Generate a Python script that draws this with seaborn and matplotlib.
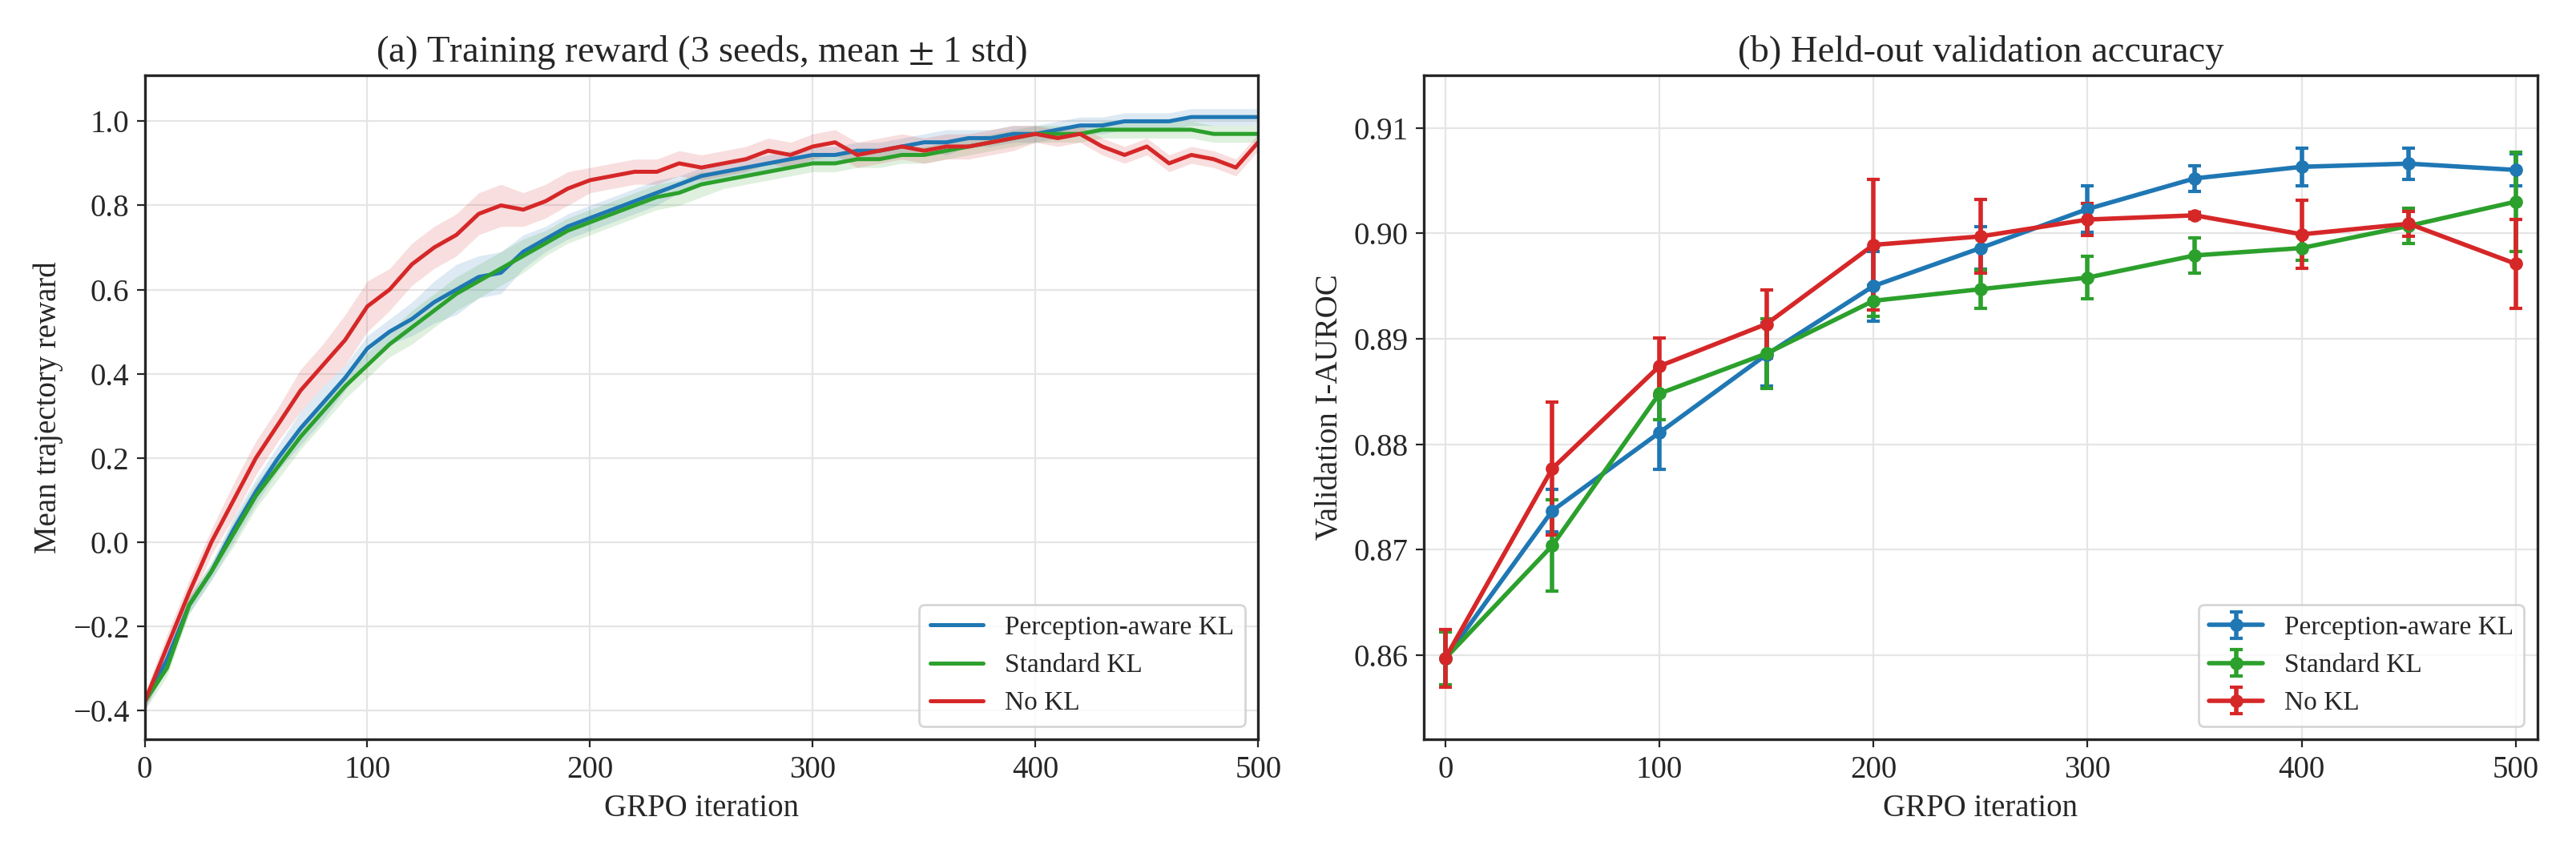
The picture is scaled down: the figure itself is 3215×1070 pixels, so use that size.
import matplotlib.pyplot as plt
import seaborn as sns
import numpy as np

# (a) training reward, sampled every 10 iterations
iters = np.arange(0, 501, 10)
pa_mean = [-0.38, -0.28, -0.15, -0.07, 0.03, 0.12, 0.20, 0.27, 0.33, 0.39, 0.46, 0.50, 0.53, 0.57, 0.60,
           0.63, 0.64, 0.69, 0.72, 0.75, 0.77, 0.79, 0.81, 0.83, 0.85, 0.87, 0.88, 0.89, 0.90, 0.91,
           0.92, 0.92, 0.93, 0.93, 0.94, 0.95, 0.95, 0.96, 0.96, 0.97, 0.97, 0.98, 0.99, 0.99, 1.00,
           1.00, 1.00, 1.01, 1.01, 1.01, 1.01]
pa_std = [0.02, 0.02, 0.02, 0.02, 0.03, 0.03, 0.03, 0.04, 0.04, 0.03, 0.03, 0.03, 0.04, 0.05, 0.06,
          0.05, 0.05, 0.04, 0.03, 0.03, 0.03, 0.03, 0.03, 0.03, 0.02, 0.02, 0.02, 0.02, 0.02, 0.02,
          0.02, 0.02, 0.02, 0.02, 0.02, 0.02, 0.03, 0.02, 0.02, 0.02, 0.02, 0.02, 0.02, 0.02, 0.02,
          0.02, 0.02, 0.02, 0.02, 0.02, 0.02]
std_mean = [-0.38, -0.30, -0.15, -0.07, 0.02, 0.11, 0.18, 0.25, 0.31, 0.37, 0.42, 0.47, 0.51, 0.55, 0.59,
            0.62, 0.65, 0.68, 0.71, 0.74, 0.76, 0.78, 0.80, 0.82, 0.83, 0.85, 0.86, 0.87, 0.88, 0.89,
            0.90, 0.90, 0.91, 0.91, 0.92, 0.92, 0.93, 0.94, 0.95, 0.96, 0.97, 0.97, 0.97, 0.98, 0.98,
            0.98, 0.98, 0.98, 0.97, 0.97, 0.97]
std_std = [0.02, 0.02, 0.02, 0.02, 0.03, 0.03, 0.03, 0.03, 0.03, 0.03, 0.03, 0.03, 0.04, 0.04, 0.04,
           0.04, 0.04, 0.04, 0.03, 0.03, 0.03, 0.03, 0.03, 0.03, 0.03, 0.03, 0.02, 0.02, 0.02, 0.02,
           0.02, 0.02, 0.02, 0.02, 0.02, 0.02, 0.02, 0.02, 0.02, 0.02, 0.02, 0.02, 0.02, 0.02, 0.02,
           0.02, 0.02, 0.02, 0.02, 0.02, 0.02]
nokl_mean = [-0.38, -0.25, -0.12, 0.00, 0.10, 0.20, 0.28, 0.36, 0.42, 0.48, 0.56, 0.60, 0.66, 0.70, 0.73,
             0.78, 0.80, 0.79, 0.81, 0.84, 0.86, 0.87, 0.88, 0.88, 0.90, 0.89, 0.90, 0.91, 0.93, 0.92,
             0.94, 0.95, 0.92, 0.93, 0.94, 0.93, 0.94, 0.94, 0.95, 0.96, 0.97, 0.96, 0.97, 0.94, 0.92,
             0.94, 0.90, 0.92, 0.91, 0.89, 0.95]
nokl_std = [0.02, 0.03, 0.03, 0.03, 0.04, 0.04, 0.04, 0.05, 0.05, 0.06, 0.06, 0.05, 0.05, 0.05, 0.05,
            0.05, 0.05, 0.04, 0.04, 0.04, 0.03, 0.03, 0.03, 0.03, 0.03, 0.03, 0.03, 0.03, 0.03, 0.03,
            0.03, 0.03, 0.03, 0.03, 0.03, 0.03, 0.03, 0.03, 0.03, 0.03, 0.02, 0.02, 0.02, 0.02, 0.02,
            0.02, 0.02, 0.02, 0.02, 0.02, 0.02]

# (b) validation accuracy
val_iters = np.arange(0, 501, 50)
pa_val = [0.8597, 0.8737, 0.8811, 0.8885, 0.8950, 0.8986, 0.9023, 0.9052, 0.9063, 0.9066, 0.9060]
pa_err = [0.0025, 0.0020, 0.0035, 0.0030, 0.0033, 0.0020, 0.0022, 0.0012, 0.0018, 0.0015, 0.0015]
std_val = [0.8597, 0.8704, 0.8848, 0.8886, 0.8936, 0.8947, 0.8958, 0.8979, 0.8986, 0.9007, 0.9030]
std_err = [0.0025, 0.0043, 0.0025, 0.0033, 0.0015, 0.0018, 0.0020, 0.0017, 0.0012, 0.0017, 0.0047]
nokl_val = [0.8597, 0.8777, 0.8874, 0.8914, 0.8989, 0.8997, 0.9013, 0.9017, 0.8999, 0.9009, 0.8971]
nokl_err = [0.0027, 0.0063, 0.0027, 0.0032, 0.0062, 0.0035, 0.0015, 0.0003, 0.0032, 0.0012, 0.0042]

sns.set_style("ticks")
plt.rcParams['font.family'] = ['Liberation Serif', 'DejaVu Serif']
plt.rcParams['mathtext.fontset'] = 'stix'
plt.rcParams['font.size'] = 14

fig, (ax1, ax2) = plt.subplots(1, 2, figsize=(16.08, 5.35), dpi=200)

series = [("Perception-aware KL", "#1f77b4", pa_mean, pa_std, pa_val, pa_err),
          ("Standard KL", "#2ca02c", std_mean, std_std, std_val, std_err),
          ("No KL", "#d62728", nokl_mean, nokl_std, nokl_val, nokl_err)]

for name, c, m, s, v, e in series:
    m = np.array(m); s = np.array(s)
    sns.lineplot(x=iters, y=m, ax=ax1, color=c, lw=1.8, label=name)
    ax1.fill_between(iters, m - s, m + s, color=c, alpha=0.15, lw=0)
    ax2.errorbar(val_iters, v, yerr=e, color=c, lw=2, marker='o', ms=5, capsize=3, capthick=1.5, label=name)

ax1.set_xlim(0, 500)
ax1.set_ylim(-0.47, 1.11)
ax1.set_xlabel("GRPO iteration")
ax1.set_ylabel("Mean trajectory reward")
ax1.set_title("(a) Training reward (3 seeds, mean $\\pm$ 1 std)")
ax1.legend(loc='lower right', fontsize=12)

ax2.set_xlim(-10, 510)
ax2.set_ylim(0.852, 0.915)
ax2.set_xlabel("GRPO iteration")
ax2.set_ylabel("Validation I-AUROC")
ax2.set_title("(b) Held-out validation accuracy")
ax2.legend(loc='lower right', fontsize=12)

for ax in (ax1, ax2):
    ax.grid(True, color='#e5e5e5', lw=0.8)
    for sp in ax.spines.values():
        sp.set_linewidth(1.2)

plt.tight_layout()
plt.savefig("out.png")
